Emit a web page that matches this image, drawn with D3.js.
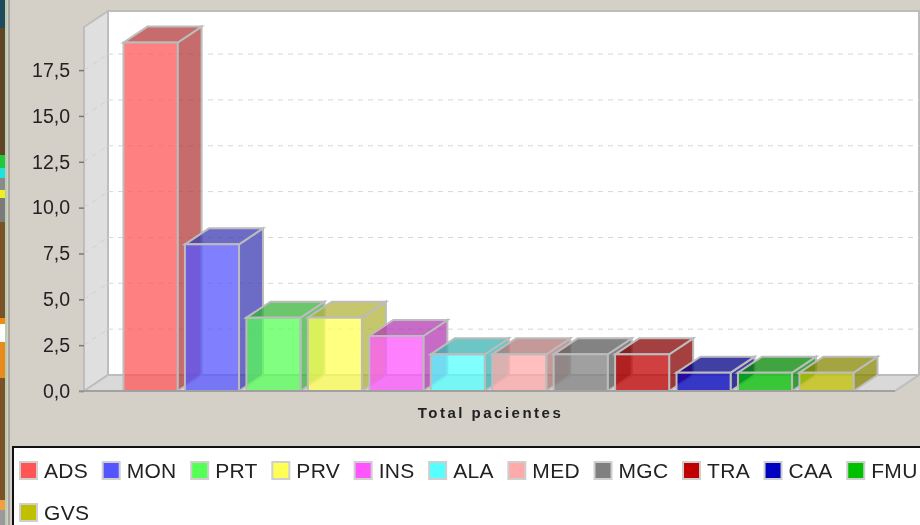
<!DOCTYPE html>
<html>
<head>
<meta charset="utf-8">
<script src="https://cdn.jsdelivr.net/npm/d3@7"></script>
<style>
html, body { margin: 0; padding: 0; background: #d4d0c8; overflow: hidden; }
svg { display: block; filter: blur(0.7px); font-family: "Liberation Sans", Arial, sans-serif; }
</style>
</head>
<body>
<svg id="chart" width="920" height="525"></svg>
<script>
const categories = ['ADS', 'MON', 'PRT', 'PRV', 'INS', 'ALA', 'MED', 'MGC', 'TRA', 'CAA', 'FMU', 'GVS'];
const values = [19, 8, 4, 4, 3, 2, 2, 2, 2, 1, 1, 1];
const colors = ['#ff5555', '#5555ff', '#55ff55', '#ffff55', '#ff55ff', '#55ffff', '#ffaaaa', '#808080', '#c00000', '#0000c0', '#00c000', '#c0c000'];
const yTicks = [0, 2.5, 5, 7.5, 10, 12.5, 15, 17.5];
const axisTitle = 'Total pacientes';

const svg = d3.select('#chart');

const depthX = 24, depthY = 16;
const plot = {left: 84, right: 895, top: 27, bottom: 391};

const xScale = d3.scaleBand().domain(categories).range([123.5, 853.5]).paddingInner(0.12).paddingOuter(0);
const yScale = d3.scaleLinear().domain([0, 19.85]).range([plot.bottom, plot.top]);

const poly = pts => 'M' + pts.map(p => p.join(',')).join('L') + 'Z';

// window behind the chart, cut off at the left edge of the screenshot
const stripColors = [
    [0, 28, '#1f4a5c'], [28, 155, '#5f4526'], [155, 168, '#22c83c'], [168, 178, '#20e0e0'],
    [178, 190, '#8a8a8a'], [190, 198, '#eeee20'], [198, 222, '#7a7a7a'], [222, 318, '#7a5228'],
    [318, 324, '#f08c14'], [324, 342, '#fdfdfd'], [342, 378, '#e88a1e'], [378, 500, '#7a5228'],
    [500, 510, '#f0a040'], [510, 525, '#9a9a9a']
];
svg.append('g').selectAll('rect')
    .data(stripColors)
    .join('rect')
        .attr('x', 0).attr('width', 5)
        .attr('y', d => d[0]).attr('height', d => d[1] - d[0])
        .attr('fill', d => d[2]);
svg.append('rect').attr('x', 5).attr('y', 0).attr('width', 2).attr('height', 525).attr('fill', '#b9cdb0');
svg.append('rect').attr('x', 8).attr('y', 0).attr('width', 2).attr('height', 525).attr('fill', '#a9a69f');

// back wall, floor and left wall
const walls = svg.append('g').attr('stroke', '#bdbdbd').attr('stroke-width', 2);
walls.append('path')
    .attr('d', poly([[plot.left + depthX, plot.top - depthY], [plot.right + depthX, plot.top - depthY],
        [plot.right + depthX, plot.bottom - depthY], [plot.left + depthX, plot.bottom - depthY]]))
    .attr('fill', '#fff');
walls.append('path')
    .attr('d', poly([[plot.left, plot.top], [plot.left + depthX, plot.top - depthY],
        [plot.left + depthX, plot.bottom - depthY], [plot.left, plot.bottom]]))
    .attr('fill', '#dfdfdf');
walls.append('path')
    .attr('d', poly([[plot.left, plot.bottom], [plot.left + depthX, plot.bottom - depthY],
        [plot.right + depthX, plot.bottom - depthY], [plot.right, plot.bottom]]))
    .attr('fill', '#d9d9d9');

// dashed grid on the walls
const grid = svg.append('g').attr('fill', 'none').attr('stroke-dasharray', '5,5');
grid.selectAll('.back')
    .data(yTicks.slice(1))
    .join('line')
        .attr('class', 'back')
        .attr('x1', plot.left + depthX).attr('x2', plot.right + depthX)
        .attr('y1', d => yScale(d) - depthY).attr('y2', d => yScale(d) - depthY)
        .attr('stroke', '#d6d6d6');
grid.selectAll('.side')
    .data(yTicks.slice(1))
    .join('line')
        .attr('class', 'side')
        .attr('x1', plot.left).attr('x2', plot.left + depthX)
        .attr('y1', d => yScale(d)).attr('y2', d => yScale(d) - depthY)
        .attr('stroke', '#cfcfcf');

// bars: side and top are the darker colour, front the plain one
const bars = svg.append('g').selectAll('g')
    .data(categories.map((c, i) => ({name: c, value: values[i], color: colors[i]})))
    .join('g')
        .attr('stroke', '#bcbcbc')
        .attr('stroke-width', 2);

bars.append('path')
    .attr('d', d => {
        const x1 = xScale(d.name) + xScale.bandwidth(), y0 = yScale(d.value);
        return poly([[x1, y0], [x1 + depthX, y0 - depthY], [x1 + depthX, plot.bottom - depthY], [x1, plot.bottom]]);
    })
    .attr('fill', d => d3.rgb(d.color).darker(1))
    .attr('fill-opacity', 0.75);

bars.append('path')
    .attr('d', d => {
        const x0 = xScale(d.name), x1 = x0 + xScale.bandwidth(), y0 = yScale(d.value);
        return poly([[x0, y0], [x0 + depthX, y0 - depthY], [x1 + depthX, y0 - depthY], [x1, y0]]);
    })
    .attr('fill', d => d3.rgb(d.color).darker(1))
    .attr('fill-opacity', 0.75);

bars.append('rect')
    .attr('x', d => xScale(d.name))
    .attr('y', d => yScale(d.value))
    .attr('width', xScale.bandwidth())
    .attr('height', d => plot.bottom - yScale(d.value))
    .attr('fill', d => d.color)
    .attr('fill-opacity', 0.75);

// y axis
const yAxisCall = d3.axisLeft(yScale)
    .tickValues(yTicks)
    .tickSize(5)
    .tickSizeOuter(0)
    .tickFormat(d => d3.format('.1f')(d).replace('.', ','));
const yAxis = svg.append('g')
    .attr('transform', `translate(${plot.left},0)`)
    .call(yAxisCall);
yAxis.select('.domain').remove();
yAxis.selectAll('line').attr('stroke', '#777').attr('stroke-width', 1.5);
yAxis.selectAll('text')
    .attr('x', -14)
    .attr('font-size', '19.5px')
    .attr('font-family', '"Liberation Sans", Arial, sans-serif')
    .attr('fill', '#222');

// base line and axis title
svg.append('line')
    .attr('x1', plot.left - 5).attr('x2', plot.right)
    .attr('y1', plot.bottom).attr('y2', plot.bottom)
    .attr('stroke', '#999').attr('stroke-width', 1.5);
svg.append('text')
    .attr('x', 490.5).attr('y', 418)
    .attr('text-anchor', 'middle')
    .attr('font-size', '15px')
    .attr('font-weight', 'bold')
    .attr('letter-spacing', '2.5px')
    .attr('fill', '#222')
    .text(axisTitle);

// legend box runs off the right and bottom of the picture
svg.append('rect')
    .attr('x', 13).attr('y', 447).attr('width', 930).attr('height', 100)
    .attr('fill', '#fff').attr('stroke', '#111').attr('stroke-width', 2);

const legend = svg.append('g');
let lx = 20, ly = 462;
categories.forEach((c, i) => {
    const item = legend.append('g').attr('transform', `translate(${lx},${ly})`);
    item.append('rect')
        .attr('width', 17).attr('height', 17)
        .attr('fill', colors[i])
        .attr('stroke', '#cfcfcf').attr('stroke-width', 2);
    const label = item.append('text')
        .attr('x', 24).attr('y', 16)
        .attr('font-size', '21px')
        .attr('letter-spacing', '0.3px')
        .attr('fill', '#222')
        .text(c);
    lx += 24 + label.node().getComputedTextLength() + 14.6;
    if (lx > 900) {
        lx = 20;
        ly += 42;
    }
});
</script>
</body>
</html>
